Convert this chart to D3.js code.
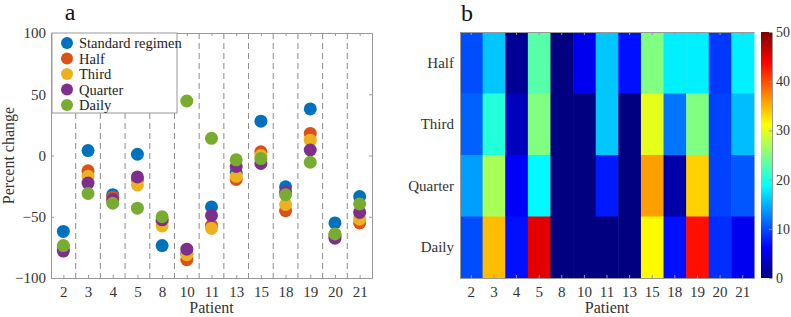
<!DOCTYPE html>
<html>
<head>
<meta charset="utf-8">
<script src="https://cdn.jsdelivr.net/npm/d3@7"></script>
<style>
  body { margin: 0; background: #fff; }
  svg text { font-family: "Times New Roman", "Liberation Serif", "DejaVu Serif", serif !important; }
  .axis text { fill: #333; font-size: 15px; }
  .axis path, .axis line { stroke: #999; }
</style>
</head>
<body>
<div id="chart"></div>
<script>
// Percent change per patient and regimen (panel a), heatmap values (panel b)
const patients = ["2", "3", "4", "5", "8", "10", "11", "13", "15", "18", "19", "20", "21"];
const seriesNames = ["Standard regimen", "Half", "Third", "Quarter", "Daily"];
const seriesColors = ["#0072BD", "#D95319", "#EDB120", "#7E2F8E", "#77AC30"];

const standardVals = [-62, 4, -32, 1, -73.5, -80, -42, -14, 28, -25.5, 38, -55, -33.5];
const halfVals     = [-75, -12.5, -34, -20, -54, -85, -57, -19.5, 3, -45, 18, -65, -55];
const thirdVals    = [-75, -17, -37, -24, -57.5, -81, -59.5, -17, 0, -40, 12.5, -65, -52];
const quarterVals  = [-78, -22.5, -36, -17.5, -52.5, -76.5, -49, -9, -6.5, -29.5, 4.5, -67.5, -46.5];
const dailyVals    = [-73.5, -31, -39, -43, -50, 44.5, 14, -3.5, -2.5, -32, -5.5, -64, -39.5];

const heatRows = ["Half", "Third", "Quarter", "Daily"];
const heatHalf    = [10, 16, 1, 23, 0, 5.5, 16, 7, 25, 18, 18, 9, 18];
const heatThird   = [11, 20.5, 3, 25, 0, 0, 16, 0, 30, 12, 25, 9.5, 15.5];
const heatQuarter = [14, 27, 6, 18.5, 0, 0, 7.5, 0, 36, 2, 33.5, 9.5, 10.5];
const heatDaily   = [10, 34.5, 7, 45, 0, 0, 0, 0, 31.5, 7, 43, 8.5, 5.5];

const yTicks = [-100, -50, 0, 50, 100];
const cbTicks = [0, 10, 20, 30, 40, 50];

const serif = "'Times New Roman', 'Liberation Serif', serif";

const svg = d3.select("#chart").append("svg")
    .attr("width", 791)
    .attr("height", 317)
    .attr("font-family", serif);

// ---------- panel a ----------
const a = { left: 51, right: 372, top: 33, bottom: 278 };

const x = d3.scalePoint().domain(patients).range([a.left, a.right]).padding(0.5);
const y = d3.scaleLinear().domain([-100, 100]).range([a.bottom, a.top]);

const gA = svg.append("g");

// dashed separators
const step = x.step();
gA.selectAll(".sep")
    .data(patients.slice(0, -1))
    .enter().append("line")
    .attr("x1", d => x(d) + step / 2)
    .attr("x2", d => x(d) + step / 2)
    .attr("y1", a.top)
    .attr("y2", a.bottom)
    .attr("stroke", "#8c8c8c")
    .attr("stroke-width", 1)
    .attr("stroke-dasharray", "6,4");

// axes
gA.append("g").attr("class", "axis")
    .attr("transform", `translate(0,${a.bottom})`)
    .call(d3.axisBottom(x).tickSizeInner(-3).tickSizeOuter(0).tickPadding(8));
gA.append("g").attr("class", "axis")
    .attr("transform", `translate(0,${a.top})`)
    .call(d3.axisTop(x).tickSizeInner(-3).tickSizeOuter(0).tickFormat(""));
gA.append("g").attr("class", "axis")
    .attr("transform", `translate(${a.left},0)`)
    .call(d3.axisLeft(y).tickValues(yTicks).tickSizeInner(-3).tickSizeOuter(0).tickPadding(5));
gA.append("g").attr("class", "axis")
    .attr("transform", `translate(${a.right},0)`)
    .call(d3.axisRight(y).tickValues(yTicks).tickSizeInner(-3).tickSizeOuter(0).tickFormat(""));

// dots
const allSeries = [standardVals, halfVals, thirdVals, quarterVals, dailyVals];
allSeries.forEach((vals, si) => {
    gA.selectAll(".dot" + si)
        .data(vals)
        .enter().append("circle")
        .attr("cx", (d, i) => x(patients[i]))
        .attr("cy", d => y(d))
        .attr("r", 6.5)
        .attr("fill", seriesColors[si]);
});

// legend
const leg = gA.append("g").attr("transform", `translate(${a.left + 1},${a.top})`);
leg.append("rect")
    .attr("width", 125).attr("height", 80)
    .attr("fill", "#fff").attr("stroke", "#999");
seriesNames.forEach((name, i) => {
    const row = leg.append("g").attr("transform", `translate(0,${10 + i * 15.5})`);
    row.append("circle").attr("cx", 15).attr("cy", 0).attr("r", 6).attr("fill", seriesColors[i]);
    row.append("text").attr("x", 27).attr("y", 5)
        .attr("font-size", 14.5).attr("fill", "#222").text(name);
});

gA.append("text")
    .attr("x", 70).attr("y", 20)
    .attr("text-anchor", "middle")
    .attr("font-size", 24).attr("fill", "#111").text("a");
gA.append("text")
    .attr("x", (a.left + a.right) / 2).attr("y", 313)
    .attr("text-anchor", "middle")
    .attr("font-size", 16).attr("fill", "#333").text("Patient");
gA.append("text")
    .attr("transform", `translate(14,${(a.top + a.bottom) / 2}) rotate(-90)`)
    .attr("text-anchor", "middle")
    .attr("font-size", 16).attr("fill", "#333").text("Percent change");

// ---------- panel b ----------
const b = { left: 460, right: 754, top: 32, bottom: 278 };
const hx = d3.scaleBand().domain(patients).range([b.left, b.right]);
const hy = d3.scaleBand().domain(heatRows).range([b.top, b.bottom]);

// MATLAB jet colormap
function jet(t) {
    t = Math.max(0, Math.min(1, t));
    const r = Math.max(0, Math.min(1, Math.min(4 * t - 1.5, -4 * t + 4.5)));
    const g = Math.max(0, Math.min(1, Math.min(4 * t - 0.5, -4 * t + 3.5)));
    const bl = Math.max(0, Math.min(1, Math.min(4 * t + 0.5, -4 * t + 2.5)));
    return d3.rgb(r * 255, g * 255, bl * 255).toString();
}
const cval = d3.scaleLinear().domain([0, 50]).range([0, 1]);

const heatData = [heatHalf, heatThird, heatQuarter, heatDaily];
const gB = svg.append("g");
heatData.forEach((vals, ri) => {
    gB.selectAll(".cell" + ri)
        .data(vals)
        .enter().append("rect")
        .attr("x", (d, i) => hx(patients[i]))
        .attr("y", hy(heatRows[ri]))
        .attr("width", hx.bandwidth() + 0.5)
        .attr("height", hy.bandwidth() + 0.5)
        .attr("fill", d => jet(cval(d)));
});

gB.append("g").attr("class", "axis")
    .attr("transform", `translate(0,${b.bottom})`)
    .call(d3.axisBottom(hx).tickSizeInner(-3).tickSizeOuter(0).tickPadding(8));
gB.append("g").attr("class", "axis")
    .attr("transform", `translate(0,${b.top})`)
    .call(d3.axisTop(hx).tickSizeInner(-3).tickSizeOuter(0).tickFormat(""));
gB.append("g").attr("class", "axis")
    .attr("transform", `translate(${b.left},0)`)
    .call(d3.axisLeft(hy).tickSize(0).tickPadding(6));
gB.selectAll(".axis path").attr("stroke", "none");

gB.append("text")
    .attr("x", 467).attr("y", 21)
    .attr("text-anchor", "middle")
    .attr("font-size", 24).attr("fill", "#111").text("b");
gB.append("text")
    .attr("x", (b.left + b.right) / 2).attr("y", 313)
    .attr("text-anchor", "middle")
    .attr("font-size", 16).attr("fill", "#333").text("Patient");

// colorbar
const cb = { left: 761, width: 11 };
const cy = d3.scaleLinear().domain([0, 50]).range([b.bottom, b.top]);
const defs = svg.append("defs");
const grad = defs.append("linearGradient")
    .attr("id", "jetgrad").attr("x1", 0).attr("x2", 0).attr("y1", 1).attr("y2", 0);
d3.range(0, 1.0001, 0.0625).forEach(t => {
    grad.append("stop").attr("offset", t).attr("stop-color", jet(t));
});
gB.append("rect")
    .attr("x", cb.left).attr("y", b.top)
    .attr("width", cb.width).attr("height", b.bottom - b.top)
    .attr("fill", "url(#jetgrad)");
const cbAxis = gB.append("g").attr("class", "axis")
    .attr("transform", `translate(${cb.left + cb.width},0)`)
    .call(d3.axisRight(cy).tickValues(cbTicks).tickSizeInner(-3).tickSizeOuter(0).tickPadding(4));
cbAxis.select("path").attr("stroke", "none");
cbAxis.selectAll("text").style("font-size", "14px");
</script>
</body>
</html>
